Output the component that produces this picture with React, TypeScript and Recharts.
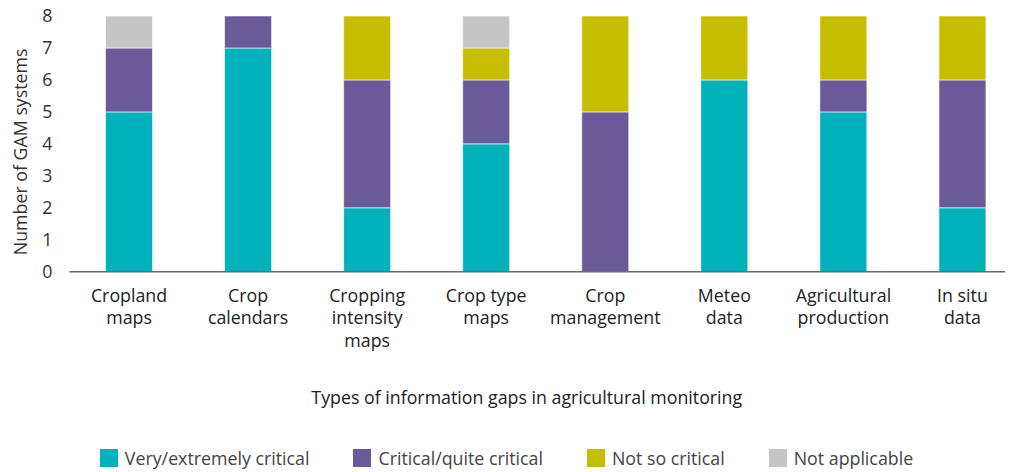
import React from "react";
import { BarChart, Bar, XAxis, YAxis, Legend, Label } from "recharts";

// x categories (line breaks are rendered as separate tspans)
const categories = [
  "Cropland\nmaps",
  "Crop\ncalendars",
  "Cropping\nintensity\nmaps",
  "Crop type\nmaps",
  "Crop\nmanagement",
  "Meteo\ndata",
  "Agricultural\nproduction",
  "In situ\ndata",
];

const veryCritical = [5, 7, 2, 4, 0, 6, 5, 2];
const quiteCritical = [2, 1, 4, 2, 5, 0, 1, 4];
const notSoCritical = [0, 0, 2, 1, 3, 2, 2, 2];
const notApplicable = [1, 0, 0, 1, 0, 0, 0, 0];

const yTicks = [0, 1, 2, 3, 4, 5, 6, 7, 8];

const series = [
  { key: "very", name: "Very/extremely critical", color: "#00B2BB" },
  { key: "quite", name: "Critical/quite critical", color: "#6A5A9A" },
  { key: "notSo", name: "Not so critical", color: "#C8BE00" },
  { key: "na", name: "Not applicable", color: "#C6C6C6" },
];

const data = categories.map((name, i) => ({
  name,
  very: veryCritical[i],
  quite: quiteCritical[i],
  notSo: notSoCritical[i],
  na: notApplicable[i],
}));

const FONT = "'Open Sans', Lato, sans-serif";
const FS = 17.8;

const CategoryTick = ({ x, y, payload }: any) => {
  const lines = String(payload.value).split("\n");
  return (
    <text
      x={x}
      y={y + 16}
      textAnchor="middle"
      fill="#222"
      fontSize={FS}
      fontFamily={FONT}
    >
      {lines.map((l, i) => (
        <tspan key={i} x={x} dy={i === 0 ? "0.35em" : 22.5}>
          {l}
        </tspan>
      ))}
    </text>
  );
};

const YTitle = ({ viewBox }: any) => {
  const cx = 12;
  const cy = viewBox.y + viewBox.height / 2 + 8;
  return (
    <text
      x={cx}
      y={cy}
      transform={`rotate(-90, ${cx}, ${cy})`}
      textAnchor="middle"
      dominantBaseline="central"
      fill="#333"
      fontSize={FS}
      fontFamily={FONT}
    >
      Number of GAM systems
    </text>
  );
};

const XTitle = ({ viewBox }: any) => {
  const cx = viewBox.x + viewBox.width / 2 - 19;
  const cy = viewBox.y + 125;
  return (
    <text
      x={cx}
      y={cy}
      textAnchor="middle"
      dominantBaseline="central"
      fill="#222"
      fontSize={FS}
      fontFamily={FONT}
    >
      Types of information gaps in agricultural monitoring
    </text>
  );
};

const LegendContent = () => (
  <div
    style={{
      display: "flex",
      justifyContent: "center",
      alignItems: "center",
      fontFamily: FONT,
      fontSize: FS,
      lineHeight: "24px",
      color: "#444",
    }}
  >
    {series.map((s) => (
      <div
        key={s.key}
        style={{ display: "flex", alignItems: "center", margin: "0 22px" }}
      >
        <span
          style={{
            display: "inline-block",
            width: 18,
            height: 18,
            background: s.color,
            marginRight: 7,
          }}
        />
        <span>{s.name}</span>
      </div>
    ))}
  </div>
);

export default function App() {
  return (
    <div style={{ width: 1005, height: 472, overflow: "hidden", marginTop: -8 }}>
      <BarChart
        width={1014}
        height={472}
        data={data}
        barSize={47}
        margin={{ top: 16, right: 0, left: 0, bottom: 140.3 }}
      >
        <XAxis
          dataKey="name"
          height={60}
          interval={0}
          tickLine={false}
          axisLine={{ stroke: "#6b6b6b", strokeWidth: 1.5 }}
          tick={<CategoryTick />}
        >
          <Label content={<XTitle />} />
        </XAxis>
        <YAxis
          width={61.5}
          domain={[0, 8]}
          ticks={yTicks}
          interval={0}
          axisLine={false}
          tickLine={false}
          tickSize={0}
          tickMargin={17}
          tick={{ fill: "#333", fontSize: FS, fontFamily: FONT }}
        >
          <Label content={<YTitle />} />
        </YAxis>
        <Legend
          layout="vertical"
          align="center"
          verticalAlign="middle"
          wrapperStyle={{ top: 446, left: -4, width: 1005 }}
          content={<LegendContent />}
        />
        {series.map((s) => (
          <Bar
            key={s.key}
            dataKey={s.key}
            name={s.name}
            stackId="gaps"
            fill={s.color}
            stroke="#ffffff"
            strokeWidth={0.6}
            isAnimationActive={false}
          />
        ))}
      </BarChart>
    </div>
  );
}
